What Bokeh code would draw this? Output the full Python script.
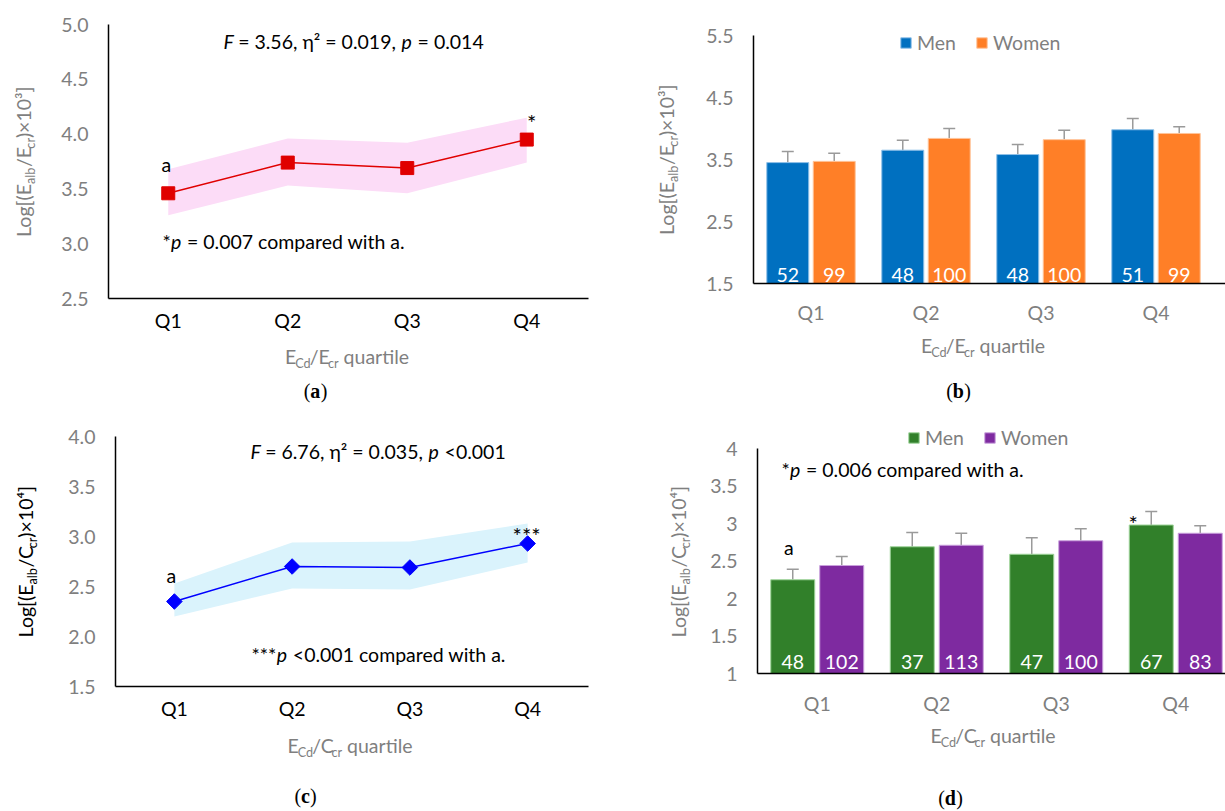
import math
from bokeh.plotting import figure
from bokeh.models import (ColumnDataSource, Label, Legend, LegendItem, Whisker, TeeHead,
                          FixedTicker, Range1d, NumeralTickFormatter)
from bokeh.layouts import row, column
from bokeh.transform import dodge
from bokeh.core.properties import value
from bokeh.embed import file_html
from bokeh.resources import INLINE

# ---------------- data ----------------
quartiles = ["Q1", "Q2", "Q3", "Q4"]

a_mean = [3.46, 3.74, 3.69, 3.95]
a_lower = [3.26, 3.53, 3.46, 3.74]
a_upper = [3.68, 3.96, 3.92, 4.15]
a_yticks = [2.5, 3.0, 3.5, 4.0, 4.5, 5.0]

b_men = [3.45, 3.65, 3.58, 3.98]
b_men_err = [0.18, 0.16, 0.16, 0.18]
b_women = [3.47, 3.84, 3.82, 3.92]
b_women_err = [0.13, 0.16, 0.15, 0.11]
b_men_n = [52, 48, 48, 51]
b_women_n = [99, 100, 100, 99]
b_yticks = [1.5, 2.5, 3.5, 4.5, 5.5]

c_mean = [2.35, 2.70, 2.69, 2.93]
c_lower = [2.20, 2.48, 2.47, 2.74]
c_upper = [2.53, 2.94, 2.95, 3.13]
c_yticks = [1.5, 2.0, 2.5, 3.0, 3.5, 4.0]

d_men = [2.25, 2.69, 2.59, 2.98]
d_men_err = [0.14, 0.19, 0.22, 0.18]
d_women = [2.44, 2.71, 2.77, 2.87]
d_women_err = [0.12, 0.16, 0.16, 0.10]
d_men_n = [48, 37, 47, 67]
d_women_n = [102, 113, 100, 83]
d_yticks = [1.0, 1.5, 2.0, 2.5, 3.0, 3.5, 4.0]

pos = list(range(1, len(quartiles) + 1))

# ---------------- style ----------------
FONT = "Lato"
GRAY = "#7f7f7f"
FS = 19.5
NB = "\u00a0"

CAL = {' ': .226, '\u00a0': .226, '.': .252, ',': .25, 'a': .479, 'b': .525, 'c': .423,
       'd': .525, 'e': .498, 'f': .305, 'g': .471, 'h': .525, 'i': .229, 'l': .229, 'm': .799,
       'n': .525, 'o': .527, 'p': .525, 'q': .525, 'r': .349, 's': .391, 't': .335, 'u': .525,
       'w': .715, 'E': .488, 'C': .533, 'F': .459, 'L': .42, 'Q': .662, '[': .306, ']': .306,
       '(': .303, ')': .303, '/': .386, '×': .498, '=': .498, '*': .40, '<': .498, 'η': .62,
       '²': .47, '³': .35, '⁴': .35}
for _d in "0123456789":
    CAL[_d] = .507


def text_width(t, s):
    return sum(CAL.get(ch, 0.5) for ch in t) * s * 1.08


def nb(t):
    # keep leading / trailing spaces visible in SVG text
    if t.startswith(" "):
        t = NB + t[1:]
    if t.endswith(" "):
        t = t[:-1] + NB
    return t


def rich(p, fig, pieces, X, Y, size=FS, color="black", align="left", vertical=False, font=FONT):
    fx, fy, w, h = fig
    items = []
    for t, st in pieces:
        s = size * 0.65 if st in ("sub", "sup") else size
        items.append((nb(t), st, s, text_width(t, s)))
    total = sum(it[3] for it in items)
    cur = -total / 2 if align == "center" else 0.0
    for t, st, s, wd in items:
        shift = -0.16 * size if st == "sub" else (0.38 * size if st == "sup" else 0.0)
        shift += 0.44 * s
        style = {"i": "italic", "b": "bold"}.get(st, "normal")
        if vertical:
            sx = (X - shift) - fx
            sy = (fy + h) - (Y - cur)
            ang = math.pi / 2
        else:
            sx = (X + cur) - fx
            sy = (fy + h) - Y + shift
            ang = 0.0
        p.add_layout(Label(x=sx, y=sy, x_units="screen", y_units="screen", text=t, angle=ang,
                           text_font=font, text_font_size=f"{s:.1f}px", text_color=color,
                           text_font_style=style, text_align="left", text_baseline="alphabetic"))
        cur += wd


def make_fig(fig, axes_box, xd, yd, yticks, yfmt, xlabel_color, xstandoff, x_axis_end):
    fx, fy, w, h = fig
    l, t, r, b = axes_box
    kx = (r - l) / (xd[1] - xd[0])
    ky = (b - t) / (yd[1] - yd[0])
    xr = Range1d(xd[0] - (l - fx) / kx, xd[1] + (fx + w - r) / kx)
    yr = Range1d(yd[0] - (fy + h - b) / ky, yd[1] + (t - fy) / ky)
    p = figure(width=w, height=h, x_range=xr, y_range=yr, title=None,
               output_backend="svg", toolbar_location=None,
               min_border_left=0, min_border_right=0, min_border_top=0, min_border_bottom=0)
    p.outline_line_color = None
    p.xgrid.grid_line_color = None
    p.ygrid.grid_line_color = None
    p.background_fill_color = "white"
    p.border_fill_color = "white"
    for ax in (p.xaxis[0], p.yaxis[0]):
        ax.axis_line_color = "black"
        ax.axis_line_width = 1.5
        ax.major_tick_line_color = None
        ax.minor_tick_line_color = None
        ax.major_tick_in = 0
        ax.major_tick_out = 0
        ax.minor_tick_in = 0
        ax.minor_tick_out = 0
        ax.major_label_text_font = FONT
        ax.major_label_text_font_size = f"{FS}px"
    p.xaxis.fixed_location = yd[0]
    p.xaxis.bounds = (xd[0], xd[0] + (x_axis_end - l) / kx)
    p.yaxis.fixed_location = xd[0]
    p.yaxis.bounds = yd
    p.xaxis.ticker = FixedTicker(ticks=pos)
    p.xaxis.major_label_overrides = {i: q for i, q in zip(pos, quartiles)}
    p.xaxis.major_label_text_color = xlabel_color
    p.xaxis.major_label_standoff = xstandoff
    p.yaxis.ticker = FixedTicker(ticks=yticks)
    p.yaxis.formatter = NumeralTickFormatter(format=yfmt)
    p.yaxis.major_label_text_color = GRAY
    p.yaxis.major_label_standoff = 20
    return p


def ytitle(p, fig, X, Yc, kind, color):
    pieces = [("Log[(E", "n"), ("alb", "sub"), ("/" + kind[0], "n"), ("cr", "sub"),
              (")×10" + kind[1] + "]", "n")]
    rich(p, fig, pieces, X, Yc, color=color, align="center", vertical=True)


def xtitle(p, fig, Xc, Y, denom):
    pieces = [("E", "n"), ("Cd", "sub"), ("/" + denom, "n"), ("cr", "sub"), (" quartile", "n")]
    rich(p, fig, pieces, Xc, Y, color=GRAY, align="center")


def caption(p, fig, Xc, Y, letter):
    rich(p, fig, [("(", "n"), (letter, "b"), (")", "n")], Xc, Y, size=20, color="black",
         align="center", font="Liberation Serif")


def data_label(p, x, y, text, dx, dy, size=FS):
    p.add_layout(Label(x=x, y=y, text=text, x_offset=dx, y_offset=dy, text_font=FONT,
                       text_font_size=f"{size}px", text_color="black", text_align="center",
                       text_baseline="middle"))


def bars(p, men, men_err, women, women_err, men_n, women_n, c_men, c_women, lc_men, lc_women,
         off, width, base, n_dy):
    out = []
    for vals, errs, ns, col, lcol, o in ((men, men_err, men_n, c_men, lc_men, -off),
                                         (women, women_err, women_n, c_women, lc_women, off)):
        src = ColumnDataSource(dict(x=pos, top=vals, upper=[v + e for v, e in zip(vals, errs)],
                                    n=[str(n) for n in ns]))
        r = p.vbar(x=dodge("x", o, range=p.x_range), top="top", bottom=base, width=width,
                   source=src, fill_color=col, line_color=lcol, line_width=1)
        p.add_layout(Whisker(source=src, base=dodge("x", o, range=p.x_range), upper="upper",
                             lower="top", line_color="#9a9a9a", line_width=1.5,
                             upper_head=TeeHead(size=12, line_color="#9a9a9a", line_width=1.5),
                             lower_head=None))
        p.text(x=dodge("x", o, range=p.x_range), y=base, text="n", source=src,
               text_color="white", text_font=value(FONT), text_font_size=f"{FS}px",
               text_align="center", text_baseline="alphabetic", y_offset=n_dy)
        out.append(r)
    return out


def legend(p, renderers, sx, sy):
    p.add_layout(Legend(items=[LegendItem(label="Men", renderers=[renderers[0]]),
                               LegendItem(label="Women", renderers=[renderers[1]])],
                        location=(sx, sy), orientation="horizontal", glyph_width=13,
                        glyph_height=13, label_standoff=5, spacing=19, padding=0, margin=0,
                        border_line_color=None, background_fill_alpha=0,
                        label_text_font=FONT, label_text_font_size=f"{FS}px",
                        label_text_color=GRAY))


# ---------------- panel (a) ----------------
figA = (0, 0, 620, 410)
pA = make_fig(figA, (108, 24, 586, 298), (0.5, 4.5), (2.5, 5.0), a_yticks, "0.0", "black", 10,
              588)
pA.varea(x=pos, y1=a_lower, y2=a_upper, fill_color="#FCDCF7")
pA.line(pos, a_mean, line_color="#E00000", line_width=1.5)
pA.scatter(pos, a_mean, marker="square", size=13, fill_color="#E00000", line_color="#E00000")
data_label(pA, pos[0], a_mean[0], "a", -2, 29)
data_label(pA, pos[3], a_mean[3], "*", 5, 17, size=22)
rich(pA, figA, [("F", "i"), (" = 3.56, η² = 0.019, ", "n"), ("p", "i"), (" = 0.014", "n")],
     223, 49.5)
rich(pA, figA, [("*", "n"), ("p", "i"), (" = 0.007 compared with a.", "n")], 162, 249.5)
ytitle(pA, figA, 31.5, 161, ("E", "³"), GRAY)
xtitle(pA, figA, 347, 364.5, "E")
caption(pA, figA, 315, 399, "a")

# ---------------- panel (b) ----------------
figB = (620, 0, 605, 410)
pB = make_fig(figB, (753, 35, 1213, 283), (0.5, 4.5), (1.5, 5.5), b_yticks, "0.0", GRAY, 17,
              1225)
rb = bars(pB, b_men, b_men_err, b_women, b_women_err, b_men_n, b_women_n,
          "#0070C0", "#FF7F27", "#8fc0e8", "#ffc49a", 0.202, 0.365, 1.5, -8.5)
legend(pB, rb, 279, 356)
ytitle(pB, figB, 674.5, 159, ("E", "³"), GRAY)
xtitle(pB, figB, 983, 353.5, "E")
caption(pB, figB, 958, 399, "b")

# ---------------- panel (c) ----------------
figC = (0, 410, 620, 401)
pC = make_fig(figC, (115, 436, 586, 686), (0.5, 4.5), (1.5, 4.0), c_yticks, "0.0", "black", 10,
              588)
pC.varea(x=pos, y1=c_lower, y2=c_upper, fill_color="#DAF3FC")
pC.line(pos, c_mean, line_color="#0000FF", line_width=1.5)
pC.scatter(pos, c_mean, marker="square", angle=math.pi / 4, size=11,
           fill_color="#0000FF", line_color="#0000FF")
data_label(pC, pos[0], c_mean[0], "a", -3, 26)
data_label(pC, pos[3], c_mean[3], "***", -1, 8, size=22)
rich(pC, figC, [("F", "i"), (" = 6.76, η² = 0.035, ", "n"), ("p", "i"), (" <0.001", "n")],
     250, 459.5)
rich(pC, figC, [("***", "n"), ("p", "i"), (" <0.001 compared with a.", "n")], 251, 662.5)
ytitle(pC, figC, 33.5, 561, ("C", "⁴"), "black")
xtitle(pC, figC, 350, 753.5, "C")
caption(pC, figC, 305, 804, "c")

# ---------------- panel (d) ----------------
figD = (620, 410, 605, 401)
pD = make_fig(figD, (757, 448, 1235, 673), (0.5, 4.5), (1.0, 4.0), d_yticks, "0.[0]", GRAY, 18,
              1225)
rd = bars(pD, d_men, d_men_err, d_women, d_women_err, d_men_n, d_women_n,
          "#31802A", "#7E2AA0", "#9fd49a", "#c9a0dc", 0.205, 0.368, 1.0, -11.5)
legend(pD, rd, 287, 362)
data_label(pD, pos[0] - 0.205, d_men[0], "a", -4, 32)
data_label(pD, pos[3] - 0.205, d_men[3], "*", -18, 2, size=22)
rich(pD, figD, [("*", "n"), ("p", "i"), (" = 0.006 compared with a.", "n")], 781, 477.5)
ytitle(pD, figD, 686.5, 561, ("C", "⁴"), GRAY)
xtitle(pD, figD, 993, 743.5, "C")
caption(pD, figD, 950, 806, "d")

layout = column(row(pA, pB), row(pC, pD))
open("out.html", "w").write(file_html(layout, INLINE))
